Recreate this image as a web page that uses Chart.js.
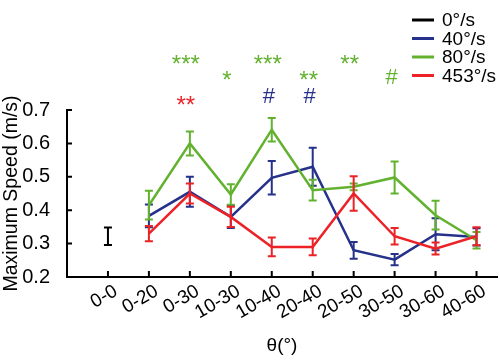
<!DOCTYPE html>
<html>
<head>
<script src="https://cdn.jsdelivr.net/npm/chart.js@4.4.1/dist/chart.umd.min.js"></script>
<style>
  body { margin: 0; background: #fff; }
</style>
</head>
<body>
<canvas id="myChart" width="500" height="360"></canvas>
<script>
  // categories on the x axis
  const cats = ["0-0", "0-20", "0-30", "10-30", "10-40", "20-40", "20-50", "30-50", "30-60", "40-60"];
  const yTicks = [0.2, 0.3, 0.4, 0.5, 0.6, 0.7];

  // means and error (half length) per speed
  const s0 = [0.322, null, null, null, null, null, null, null, null, null];
  const e0 = [0.026, null, null, null, null, null, null, null, null, null];
  const s40 = [null, 0.383, 0.455, 0.38, 0.497, 0.53, 0.28, 0.252, 0.328, 0.32];
  const e40 = [null, 0.034, 0.045, 0.033, 0.05, 0.057, 0.025, 0.017, 0.048, 0.026];
  const s80 = [null, 0.415, 0.60, 0.447, 0.641, 0.46, 0.47, 0.498, 0.385, 0.31];
  const e80 = [null, 0.043, 0.036, 0.031, 0.035, 0.031, 0.01, 0.048, 0.043, 0.025];
  const s453 = [null, 0.33, 0.45, 0.38, 0.29, 0.29, 0.45, 0.322, 0.285, 0.322];
  const e453 = [null, 0.023, 0.03, 0.03, 0.028, 0.025, 0.052, 0.025, 0.018, 0.027];

  // significance marks above the plot (category, level in m/s, colour series)
  const sigText = ["***", "*", "***", "**", "**", "#", "**", "#", "#"];
  const sigCat = ["0-30", "10-30", "10-40", "20-40", "20-50", "30-50", "0-30", "10-40", "20-40"];
  const sigLevel = [0.85, 0.80, 0.85, 0.80, 0.85, 0.795, 0.725, 0.74, 0.74];
  const sigSeries = ["80°/s", "80°/s", "80°/s", "80°/s", "80°/s", "80°/s", "453°/s", "40°/s", "40°/s"];

  const FONT = "'Liberation Sans', Arial, sans-serif";

  function pts(arr) {
    return arr.map((v, i) => ({ x: i, y: v }));
  }

  function makeSet(label, data, errs, color, order, showLine) {
    return {
      label: label,
      data: pts(data),
      errors: errs,
      borderColor: color,
      backgroundColor: color,
      borderWidth: 2.5,
      pointRadius: 0,
      showLine: showLine,
      spanGaps: false,
      order: order,
    };
  }

  const datasets = [
    makeSet("0°/s", s0, e0, "#000000", 3, false),
    makeSet("40°/s", s40, e40, "#25318a", 2, true),
    makeSet("80°/s", s80, e80, "#62b22f", 1, true),
    makeSet("453°/s", s453, e453, "#ec2227", 0, true),
  ];

  const errorBars = {
    id: "errorBars",
    afterDatasetDraw(chart, args) {
      const ds = chart.data.datasets[args.index];
      const { ctx, scales: { x, y } } = chart;
      ctx.save();
      ctx.strokeStyle = ds.borderColor;
      ctx.lineWidth = 2;
      ds.errors.forEach((e, i) => {
        const v = ds.data[i].y;
        if (e == null || v == null) return;
        const px = x.getPixelForValue(i);
        const top = y.getPixelForValue(v + e);
        const bot = y.getPixelForValue(v - e);
        ctx.beginPath();
        ctx.moveTo(px, top); ctx.lineTo(px, bot);
        ctx.moveTo(px - 4, top); ctx.lineTo(px + 4, top);
        ctx.moveTo(px - 4, bot); ctx.lineTo(px + 4, bot);
        ctx.stroke();
      });
      ctx.restore();
    },
    afterDraw(chart) {
      const { ctx, scales: { x, y } } = chart;
      ctx.save();
      // inward tick marks
      ctx.strokeStyle = "#000";
      ctx.lineWidth = 2;
      ctx.beginPath();
      cats.forEach((c, i) => {
        const px = x.getPixelForValue(i);
        ctx.moveTo(px, y.bottom);
        ctx.lineTo(px, y.bottom - 6);
      });
      yTicks.forEach(t => {
        const py = y.getPixelForValue(t);
        ctx.moveTo(x.left, py);
        ctx.lineTo(x.left + 5, py);
      });
      ctx.stroke();

      // significance marks
      ctx.textAlign = "center";
      ctx.textBaseline = "middle";
      sigText.forEach((t, k) => {
        const ds = chart.data.datasets.find(d => d.label === sigSeries[k]);
        ctx.fillStyle = ds.borderColor;
        ctx.font = (t === "#" ? "22px " : "24px ") + FONT;
        const px = x.getPixelForValue(cats.indexOf(sigCat[k])) - (t === "#" ? 3 : 4);
        const py = y.getPixelForValue(sigLevel[k]) + (t === "#" ? 0 : 5);
        ctx.fillText(t, px, py);
      });

      // legend, top right
      ctx.textAlign = "left";
      ctx.font = "19px " + FONT;
      chart.data.datasets.forEach((ds, k) => {
        const ly = 20 + k * 18.5;
        ctx.strokeStyle = ds.borderColor;
        ctx.lineWidth = 3;
        ctx.beginPath();
        ctx.moveTo(412, ly);
        ctx.lineTo(434, ly);
        ctx.stroke();
        ctx.fillStyle = "#000";
        ctx.fillText(ds.label, 442, ly + 1);
      });
      ctx.restore();
    }
  };

  new Chart("myChart", {
    type: "line",
    data: { datasets: datasets },
    plugins: [errorBars],
    options: {
      responsive: false,
      animation: false,
      devicePixelRatio: 1,
      layout: { padding: { top: 110, right: 3, left: 0, bottom: 0 } },
      plugins: {
        legend: { display: false },
        tooltip: { enabled: false },
      },
      scales: {
        x: {
          type: "linear",
          min: -1,
          max: 9.5,
          grid: { display: false },
          border: { display: true, color: "#000", width: 2 },
          afterBuildTicks: s => { s.ticks = cats.map((c, i) => ({ value: i })); },
          afterFit: s => { s.height = 83; },
          ticks: {
            autoSkip: false,
            minRotation: 30,
            maxRotation: 30,
            padding: -5,
            labelOffset: 8,
            color: "#000",
            font: { family: FONT, size: 19 },
            callback: v => cats[v],
          },
          title: {
            display: true,
            text: "θ(°)",
            color: "#000",
            font: { family: FONT, size: 19 },
            padding: { top: 0, bottom: 3 },
          },
        },
        y: {
          min: 0.2,
          max: 0.7,
          grid: { display: false },
          border: { display: true, color: "#000", width: 2 },
          afterBuildTicks: s => { s.ticks = yTicks.map(v => ({ value: v })); },
          afterFit: s => { s.width = 67; },
          ticks: {
            padding: 9,
            color: "#000",
            font: { family: FONT, size: 20 },
            callback: v => v.toFixed(1),
          },
          title: {
            display: true,
            text: "Maximum Speed (m/s)",
            color: "#000",
            font: { family: FONT, size: 19.5 },
            padding: { top: 0, bottom: 0 },
          },
        },
      },
    },
  });
</script>
</body>
</html>
